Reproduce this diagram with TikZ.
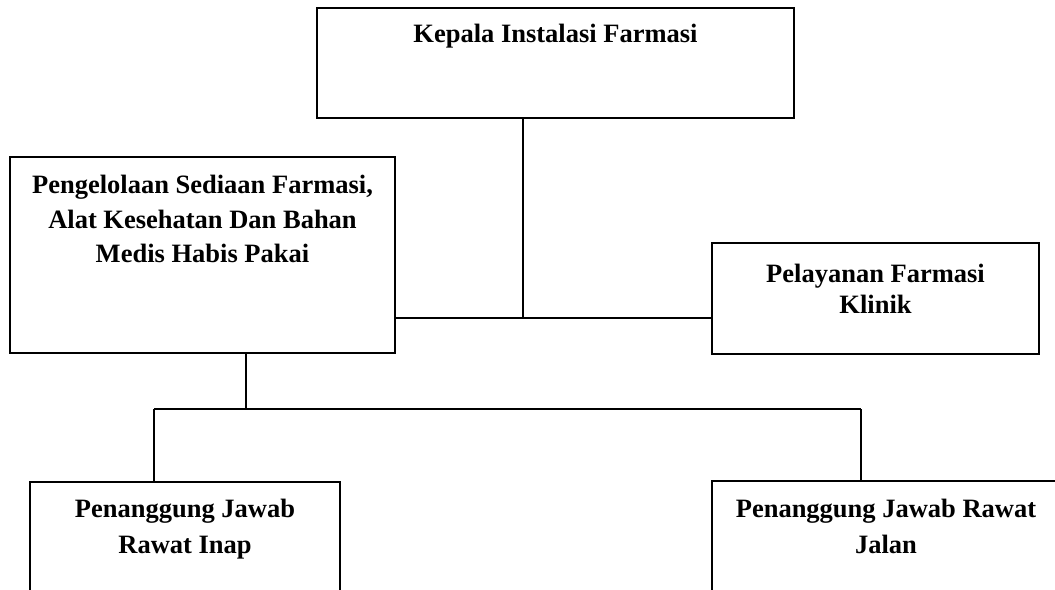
\documentclass[tikz,border=0pt]{standalone}
\usepackage{fontspec}
\setmainfont{Liberation Serif}
\usetikzlibrary{calc}
\begin{document}
\begin{tikzpicture}[x=1bp,y=-1bp,
  box/.style={draw=black, line width=1.6bp, fill=white, rectangle, inner sep=0pt, outer sep=0pt},
  txt/.style={inner sep=0pt, align=center, anchor=base, font=\fontsize{26.5bp}{34.5bp}\selectfont\bfseries},
  link/.style={draw=black, line width=1.6bp}]
\useasboundingbox (0,0) rectangle (1055,590);
\clip (0,0) rectangle (1055,590);
\fill[white] (0,0) rectangle (1055,590);
% boxes
\node[box, minimum width=477bp, minimum height=110bp] (top) at (555.5,63) {};
\node[box, minimum width=385bp, minimum height=196bp] (left) at (202.5,255) {};
\node[box, minimum width=327bp, minimum height=111bp] (right) at (875.5,298.5) {};
\node[box, minimum width=310bp, minimum height=140bp] (bl) at (185,552) {};
\node[box, minimum width=348bp, minimum height=140bp] (br) at (886,551) {};
% texts (base anchor = baseline of the last line)
\node[txt] (ttop) at ($(top.north)+(0,35)$) {Kepala Instalasi Farmasi};
\node[txt] (tleft) at ($(left.north)+(0,106)$) {Pengelolaan Sediaan Farmasi,\\Alat Kesehatan Dan Bahan\\Medis Habis Pakai};
\node[txt, font=\fontsize{26.5bp}{30.5bp}\selectfont\bfseries] (tright) at ($(right.north)+(0,70.5)$) {Pelayanan Farmasi\\Klinik};
\node[txt, font=\fontsize{26.5bp}{35.5bp}\selectfont\bfseries] (tbl) at ($(bl.north)+(0,71)$) {Penanggung Jawab\\Rawat Inap};
\node[txt, font=\fontsize{26.5bp}{35.5bp}\selectfont\bfseries] (tbr) at ($(br.north)+(0,72)$) {Penanggung Jawab Rawat\\Jalan};
% junctions
\coordinate (j1) at (523,318);
\coordinate (j2) at (246,409);
\coordinate (ja) at (154,409);
\coordinate (jb) at (861,409);
% connectors
\draw[link] (top.south -| j1) -- (j1);
\draw[link] (left.east |- j1) -- (right.west |- j1);
\draw[link] (left.south -| j2) -- (j2);
\draw[link] (ja) -- (jb);
\draw[link] (ja) -- (ja |- bl.north);
\draw[link] (jb) -- (jb |- br.north);
\end{tikzpicture}
\end{document}
